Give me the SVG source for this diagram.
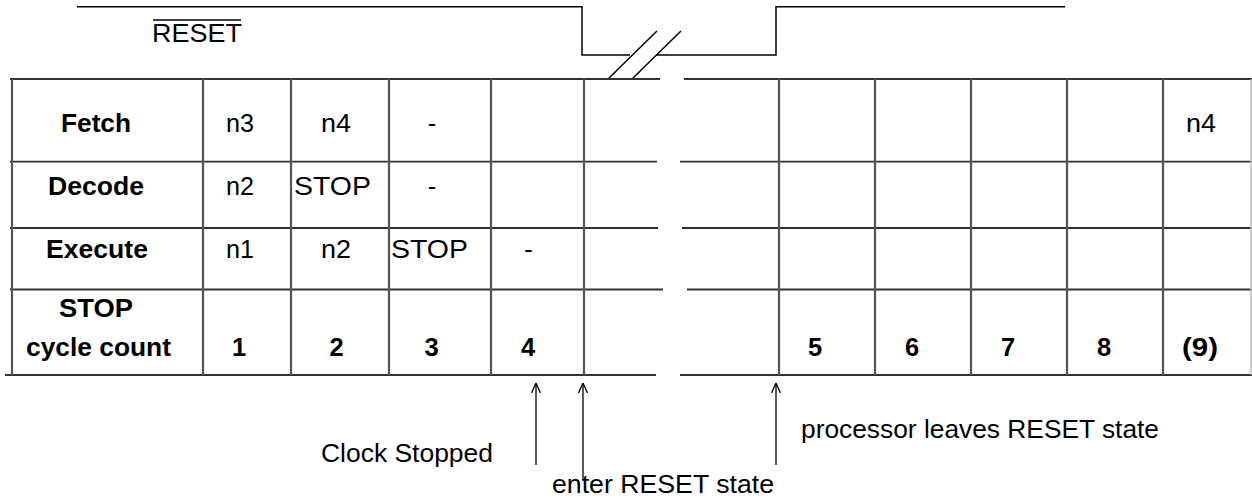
<svg xmlns="http://www.w3.org/2000/svg" width="1252" height="500" viewBox="0 0 1252 500">
  <style>
    text { font-family: "Liberation Sans", Arial, sans-serif; font-size: 25.5px; fill: #000; text-anchor: middle; }
    .b { font-weight: bold; }
    .wave { fill: none; stroke: #000; stroke-width: 1.5; }
    .h { stroke: #333; stroke-width: 1.8; fill: none; }
    .v { stroke: #555; stroke-width: 2.2; fill: none; }
    .arr { stroke: #000; stroke-width: 1.3; fill: none; marker-end: url(#open); }
  </style>
  <defs>
    <marker id="open" viewBox="0 0 10 10" refX="10" refY="5" markerWidth="10" markerHeight="10" markerUnits="userSpaceOnUse" orient="auto">
      <path d="M0,0.5 L10,5 L0,9.5" fill="none" stroke="#000" stroke-width="1.3"/>
    </marker>
  </defs>
  <rect width="1252" height="500" fill="#fff"/>

  <g id="reset-signal">
    <path class="wave" d="M77,6.7 H582 V55 H630 M656,55 H776 V6.7 H1065"/>
    <path class="wave" d="M608,79 L657,31 M632,79 L681,31"/>
    <text x="197" y="42" textLength="90" lengthAdjust="spacingAndGlyphs">RESET</text>
    <line x1="153" y1="20" x2="241" y2="20" stroke="#000" stroke-width="1.5"/>
  </g>

  <g id="grid">
    <path class="h" d="M10,79 H660 M684,79 H1252"/>
    <path class="h" d="M10,161.7 H657 M680,161.7 H1252"/>
    <path class="h" d="M10,228 H658 M682,228 H1252"/>
    <path class="h" d="M10,289.5 H663 M687,289.5 H1252"/>
    <path class="h" d="M5,375 H656 M680,375 H1252"/>
    <path class="v" d="M12,79 V375 M203,79 V375 M291,79 V375 M389,79 V375 M491,79 V375 M584,79 V375"/>
    <path class="v" d="M779,79 V375 M875,79 V375 M971,79 V375 M1067,79 V375 M1163,79 V375"/>
    <line x1="1251" y1="79" x2="1251" y2="375" stroke="#bbb" stroke-width="1.5"/>
  </g>

  <g id="row-fetch">
    <text class="b" x="96" y="131.7" textLength="70" lengthAdjust="spacingAndGlyphs">Fetch</text>
    <text x="240" y="131.7" textLength="28" lengthAdjust="spacingAndGlyphs">n3</text>
    <text x="336" y="131.7" textLength="30" lengthAdjust="spacingAndGlyphs">n4</text>
    <text x="432" y="131.7">-</text>
    <text x="1201" y="131.7" textLength="30" lengthAdjust="spacingAndGlyphs">n4</text>
  </g>

  <g id="row-decode">
    <text class="b" x="96" y="195" textLength="96" lengthAdjust="spacingAndGlyphs">Decode</text>
    <text x="240" y="195" textLength="28" lengthAdjust="spacingAndGlyphs">n2</text>
    <text x="332.5" y="195" textLength="77" lengthAdjust="spacingAndGlyphs">STOP</text>
    <text x="432" y="195">-</text>
  </g>

  <g id="row-execute">
    <text class="b" x="97" y="258" textLength="102" lengthAdjust="spacingAndGlyphs">Execute</text>
    <text x="240" y="258" textLength="28" lengthAdjust="spacingAndGlyphs">n1</text>
    <text x="336" y="258" textLength="30" lengthAdjust="spacingAndGlyphs">n2</text>
    <text x="429.5" y="258" textLength="77" lengthAdjust="spacingAndGlyphs">STOP</text>
    <text x="528.5" y="258">-</text>
  </g>

  <g id="row-count">
    <text class="b" x="96" y="316.7" textLength="74" lengthAdjust="spacingAndGlyphs">STOP</text>
    <text class="b" x="98.5" y="356" textLength="145" lengthAdjust="spacingAndGlyphs">cycle count</text>
    <text class="b" x="239" y="356">1</text>
    <text class="b" x="336.5" y="356">2</text>
    <text class="b" x="431.5" y="356">3</text>
    <text class="b" x="528" y="356">4</text>
    <text class="b" x="815" y="356">5</text>
    <text class="b" x="912" y="356">6</text>
    <text class="b" x="1008" y="356">7</text>
    <text class="b" x="1104" y="356">8</text>
    <text class="b" x="1200" y="356" textLength="36" lengthAdjust="spacingAndGlyphs">(9)</text>
  </g>

  <g id="connectors">
    <line class="arr" x1="536" y1="465" x2="536" y2="383"/>
    <line class="arr" x1="583" y1="480" x2="583" y2="383"/>
    <line class="arr" x1="776" y1="465" x2="776" y2="383"/>
  </g>

  <g id="labels">
    <text x="407" y="461.7" textLength="172" lengthAdjust="spacingAndGlyphs">Clock Stopped</text>
    <text x="663" y="493" textLength="222" lengthAdjust="spacingAndGlyphs">enter RESET state</text>
    <text x="980" y="438.3" textLength="358" lengthAdjust="spacingAndGlyphs">processor leaves RESET state</text>
  </g>
</svg>
